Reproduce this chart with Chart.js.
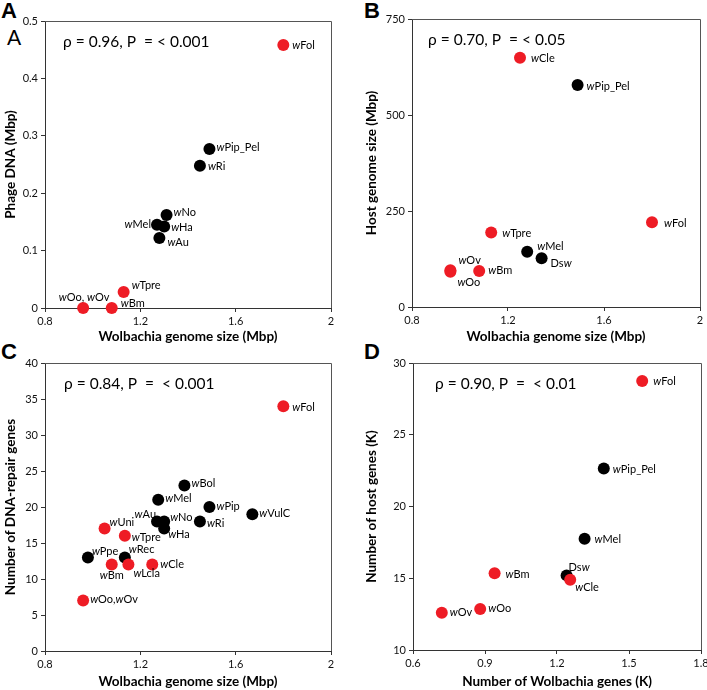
<!DOCTYPE html>
<html>
<head>
<meta charset="utf-8">
<script src="https://cdn.jsdelivr.net/npm/chart.js@4/dist/chart.umd.min.js"></script>
<style>
  html, body { margin: 0; padding: 0; background: #fff; }
  body { width: 707px; height: 690px; position: relative; overflow: hidden; }
  canvas { position: absolute; }
  .letter { position: absolute; font-family: "Liberation Sans", Arial, sans-serif; font-weight: bold; font-size: 22px; line-height: 22px; color: #000; }
</style>
</head>
<body>
<div class="letter" style="left:1px;top:0px">A</div>
<div class="letter" style="left:364px;top:0px">B</div>
<div class="letter" style="left:1px;top:341px">C</div>
<div class="letter" style="left:364px;top:341px">D</div>
<div style="position:absolute;left:7px;top:24px;font-family:Lato,sans-serif;font-size:21px;color:#000">A</div>

<canvas id="chartA" width="354" height="345" style="left:0;top:0"></canvas>
<canvas id="chartB" width="370" height="345" style="left:354px;top:0"></canvas>
<canvas id="chartC" width="354" height="345" style="left:0;top:345px"></canvas>
<canvas id="chartD" width="370" height="345" style="left:354px;top:345px"></canvas>

<script>
// Panel A: phage DNA vs Wolbachia genome size
const aNames = ['wFol', 'wPip_Pel', 'wRi', 'wNo', 'wMel', 'wHa', 'wAu', 'wTpre', 'wOo, wOv', 'wBm'];
const aGenome = [1.80, 1.49, 1.45, 1.31, 1.27, 1.30, 1.28, 1.13, 0.96, 1.08];
const aPhage = [0.458, 0.277, 0.248, 0.162, 0.145, 0.142, 0.122, 0.028, 0, 0];
const aRed = [1, 0, 0, 0, 0, 0, 0, 1, 1, 1];
const aXTicks = [0.8, 1.2, 1.6, 2];
const aYTicks = [0, 0.1, 0.2, 0.3, 0.4, 0.5];

// Panel B: host genome size vs Wolbachia genome size
const bNames = ['wCle', 'wPip_Pel', 'wFol', 'wTpre', 'wMel', 'Dsw', 'wOv', 'wOo', 'wBm'];
const bGenome = [1.25, 1.49, 1.80, 1.13, 1.28, 1.34, 0.96, 0.96, 1.08];
const bHost = [649, 578, 221, 194, 144, 127, 96, 92, 94];
const bRed = [1, 0, 1, 1, 0, 0, 1, 1, 1];
const bXTicks = [0.8, 1.2, 1.6, 2];
const bYTicks = [0, 250, 500, 750];

// Panel C: DNA-repair genes vs Wolbachia genome size
const cNames = ['wFol', 'wBol', 'wMel', 'wPip', 'wVulC', 'wAu', 'wNo', 'wRi', 'wHa', 'wUni',
                'wTpre', 'wPpe', 'wRec', 'wBm', 'wLcla', 'wCle', 'wOo,wOv'];
const cGenome = [1.80, 1.385, 1.275, 1.49, 1.67, 1.27, 1.30, 1.45, 1.30, 1.05,
                 1.135, 0.98, 1.135, 1.08, 1.15, 1.25, 0.96];
const cRepair = [34, 23, 21, 20, 19, 18, 18, 18, 17, 17, 16, 13, 13, 12, 12, 12, 7];
const cRed = [1, 0, 0, 0, 0, 0, 0, 0, 0, 1, 1, 0, 0, 1, 1, 1, 1];
const cXTicks = [0.8, 1.2, 1.6, 2];
const cYTicks = [0, 5, 10, 15, 20, 25, 30, 35, 40];

// Panel D: host genes vs Wolbachia genes
const dNames = ['wFol', 'wPip_Pel', 'wMel', 'Dsw', 'wCle', 'wBm', 'wOo', 'wOv'];
const dWolGenes = [1.555, 1.395, 1.315, 1.24, 1.255, 0.94, 0.88, 0.72];
const dHostGenes = [28.75, 22.65, 17.75, 15.2, 14.9, 15.35, 12.85, 12.6];
const dRed = [1, 0, 0, 0, 1, 1, 1, 1];
const dXTicks = [0.6, 0.9, 1.2, 1.5, 1.8];
const dYTicks = [10, 15, 20, 25, 30];

const RED = '#ee1c25';
const FONT = 'Lato, "Open Sans", sans-serif';

// label placement per point: [dx, dy, align]
const placeA = [[9, 0, 'l'], [7, -2, 'l'], [8, 1, 'l'], [7, -3, 'l'], [-6, 0, 'r'], [7, 1, 'l'],
                [8, 4, 'l'], [8, -6, 'l'], [1, -11, 'c'], [9, -5, 'l']];
const placeB = [[11, 1, 'l'], [9, 1, 'l'], [12, 1, 'l'], [11, 1, 'l'], [10, -5, 'l'], [9, 5, 'l'],
                [8, -10, 'l'], [7, 11, 'l'], [9, 0, 'l']];
const placeC = [[9, 1, 'l'], [7, -2, 'l'], [7, -1, 'l'], [7, -1, 'l'], [7, -1, 'l'], [-1, -7, 'r'],
                [6, -4, 'l'], [7, 2, 'l'], [4, 6, 'l'], [5, -6, 'l'], [7, 2, 'l'], [4, -6, 'l'],
                [4, -8, 'l'], [0, 11, 'c'], [5, 9, 'l'], [8, 0, 'l'], [7, -1, 'l']];
const placeD = [[11, 1, 'l'], [9, 1, 'l'], [10, 1, 'l'], [2, -8, 'l'], [5, 8, 'l'], [11, 1, 'l'],
                [8, -1, 'l'], [8, 0, 'l']];

function runs(name) {
    // every lowercase w is set in italics
    const out = [];
    for (const ch of name) {
        const it = ch === 'w';
        if (out.length && out[out.length - 1].it === it) out[out.length - 1].t += ch;
        else out.push({t: ch, it: it});
    }
    return out;
}

const overlayPlugin = {
    id: 'overlay',
    afterDatasetsDraw(chart, args, opts) {
        const ctx = chart.ctx;
        const area = chart.chartArea;
        const xs = chart.scales.x, ys = chart.scales.y;
        ctx.save();
        // frame top and right
        ctx.strokeStyle = '#555';
        ctx.lineWidth = 1;
        ctx.beginPath();
        ctx.moveTo(area.left, area.top + 0.5);
        ctx.lineTo(area.right + 0.5, area.top + 0.5);
        ctx.lineTo(area.right + 0.5, area.bottom);
        ctx.stroke();

        // point labels
        ctx.fillStyle = '#000';
        ctx.textBaseline = 'middle';
        ctx.textAlign = 'left';
        opts.names.forEach((name, i) => {
            const px = xs.getPixelForValue(opts.xv[i]);
            const py = ys.getPixelForValue(opts.yv[i]);
            const [dx, dy, al] = opts.place[i];
            const parts = runs(name);
            let w = 0;
            parts.forEach(p => {
                ctx.font = (p.it ? 'italic ' : '') + '11px ' + FONT;
                p.w = ctx.measureText(p.t).width;
                w += p.w;
            });
            let x = px + dx;
            if (al === 'r') x -= w;
            if (al === 'c') x -= w / 2;
            parts.forEach(p => {
                ctx.font = (p.it ? 'italic ' : '') + '11px ' + FONT;
                ctx.fillText(p.t, x, py + dy);
                x += p.w;
            });
        });

        // correlation text
        ctx.font = '15.5px ' + FONT;
        ctx.fillText(opts.stat, area.left + opts.statDx, area.top + 21);
        ctx.restore();
    }
};

function makePanel(id, cfg) {
    const canvas = document.getElementById(id);
    const W = canvas.width, H = canvas.height;
    const ca = cfg.area;
    const red = [], black = [];
    cfg.names.forEach((n, i) => {
        const pt = {x: cfg.xv[i], y: cfg.yv[i]};
        (cfg.red[i] ? red : black).push(pt);
    });
    const axisCommon = (ticks, title, fitFn, titlePad) => ({
        type: 'linear',
        min: ticks[0],
        max: ticks[ticks.length - 1],
        afterBuildTicks: s => { s.ticks = ticks.map(v => ({value: v})); },
        afterFit: fitFn,
        grid: {display: true, drawOnChartArea: false, drawTicks: true, tickLength: 4, color: '#333'},
        border: {display: true, color: '#333', width: 1},
        ticks: {
            color: '#111',
            padding: 3,
            font: {family: FONT, size: 11},
            callback: v => String(v)
        },
        title: {
            display: true,
            text: title,
            color: '#000',
            padding: {top: titlePad, bottom: 0},
            font: {family: FONT, size: 13.5, weight: 'bold'}
        }
    });
    new Chart(canvas.getContext('2d'), {
        type: 'scatter',
        data: {
            datasets: [
                {data: red, backgroundColor: RED, pointRadius: 6, pointHoverRadius: 6, borderWidth: 0, clip: false},
                {data: black, backgroundColor: '#000', pointRadius: 6, pointHoverRadius: 6, borderWidth: 0, clip: false}
            ]
        },
        options: {
            responsive: false,
            animation: false,
            events: [],
            layout: {padding: {left: 0, top: ca[1], right: W - ca[2], bottom: 0}},
            plugins: {
                legend: {display: false},
                tooltip: {enabled: false},
                overlay: {names: cfg.names, xv: cfg.xv, yv: cfg.yv, place: cfg.place,
                          stat: cfg.stat, statDx: cfg.statDx}
            },
            scales: {
                x: axisCommon(cfg.xTicks, cfg.xTitle, s => { s.height = H - ca[3]; }, 0),
                y: axisCommon(cfg.yTicks, cfg.yTitle, s => { s.width = ca[0]; }, cfg.yTitlePad)
            }
        },
        plugins: [overlayPlugin]
    });
}

makePanel('chartA', {
    names: aNames, xv: aGenome, yv: aPhage, red: aRed, place: placeA,
    xTicks: aXTicks, yTicks: aYTicks,
    xTitle: 'Wolbachia genome size (Mbp)', yTitle: 'Phage DNA (Mbp)',
    stat: 'ρ = 0.96, P  = < 0.001', statDx: 18, yTitlePad: 3,
    area: [45, 21, 331, 308]
});
makePanel('chartB', {
    names: bNames, xv: bGenome, yv: bHost, red: bRed, place: placeB,
    xTicks: bXTicks, yTicks: bYTicks,
    xTitle: 'Wolbachia genome size (Mbp)', yTitle: 'Host genome size (Mbp)',
    stat: 'ρ = 0.70, P  = < 0.05', statDx: 16, yTitlePad: 10,
    area: [58, 19, 346, 307]
});
makePanel('chartC', {
    names: cNames, xv: cGenome, yv: cRepair, red: cRed, place: placeC,
    xTicks: cXTicks, yTicks: cYTicks,
    xTitle: 'Wolbachia genome size (Mbp)', yTitle: 'Number of DNA-repair genes',
    stat: 'ρ = 0.84, P  =  < 0.001', statDx: 19, yTitlePad: 3,
    area: [45, 18, 331, 306]
});
makePanel('chartD', {
    names: dNames, xv: dWolGenes, yv: dHostGenes, red: dRed, place: placeD,
    xTicks: dXTicks, yTicks: dYTicks,
    xTitle: 'Number of Wolbachia genes (K)', yTitle: 'Number of host genes (K)',
    stat: 'ρ = 0.90, P  =  < 0.01', statDx: 22, yTitlePad: 10,
    area: [59, 18, 347, 305]
});
</script>
</body>
</html>
